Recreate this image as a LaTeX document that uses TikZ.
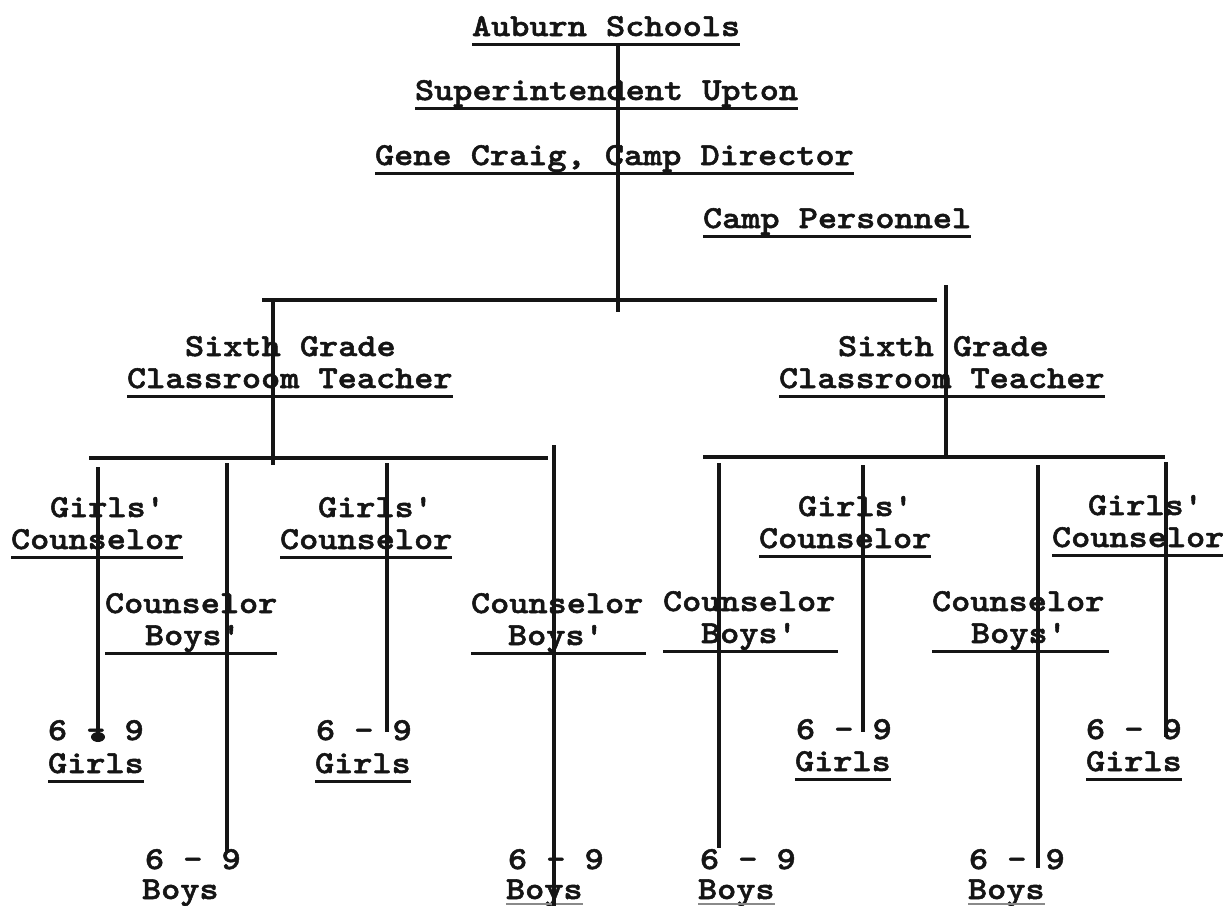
\documentclass[tikz,border=0pt]{standalone}
\usepackage{fontspec}
\newfontfamily\twfont{lmmonolt10-bold}[Extension=.otf, FakeStretch=1.14, FakeBold=1.6, Ligatures=TeXOff]
\definecolor{ink}{HTML}{151515}
\definecolor{faint}{HTML}{8A8A8A}
\newcommand\myul[2][0pt]{\draw[ul] ([yshift=-4pt,xshift=-#1]#2.base west) -- ([yshift=-4pt,xshift=#1]#2.base east);}
\begin{document}
\begin{tikzpicture}[x=0.5pt,y=-0.5pt,
  tw/.style={anchor=base west, inner sep=0pt, outer sep=0pt, font=\twfont\fontsize{16}{19}\selectfont, text=ink},
  link/.style={draw=ink, line width=2pt},
  hlink/.style={draw=ink, line width=1.8pt},
  ul/.style={draw=ink, line width=1.5pt},
  faintul/.style={draw=faint, line width=1.2pt}]
\useasboundingbox (0,0) rectangle (1223,906);
\fill[white] (0,0) rectangle (1223,906);

% ---------- top chain ----------
\node[tw] (auburn) at (472,36) {Auburn Schools};
\node[tw] (supt)   at (415,100) {Superintendent Upton};
\node[tw] (gene)   at (375,165) {Gene Craig, Camp Director};
\node[tw] (pers)   at (703,228) {Camp Personnel};
\myul{auburn}\myul{supt}\myul{gene}\myul{pers}

% ---------- teachers ----------
\node[tw] (sixL)  at (185,356) {Sixth Grade};
\node[tw] (clsL)  at (127,388) {Classroom Teacher};
\node[tw] (sixR)  at (838,356) {Sixth Grade};
\node[tw] (clsR)  at (779,388) {Classroom Teacher};
\myul{clsL}\myul{clsR}

% ---------- girls' counselors ----------
\node[tw] (gcL1a) at (50,517)  {Girls'};
\node[tw] (gcL1b) at (11,549)  {Counselor};
\node[tw] (gcL2a) at (318,517) {Girls'};
\node[tw] (gcL2b) at (280,549) {Counselor};
\node[tw] (gcR1a) at (798,516) {Girls'};
\node[tw] (gcR1b) at (759,548) {Counselor};
\node[tw] (gcR2a) at (1088,515) {Girls'};
\node[tw] (gcR2b) at (1052,547) {Counselor};
\myul{gcL1b}\myul{gcL2b}\myul{gcR1b}\myul{gcR2b}

% ---------- boys' counselors ----------
\node[tw] (bcL1a) at (105,613) {Counselor};
\node[tw] (bcL1b) at (145,645) {Boys'};
\node[tw] (bcL2a) at (471,613) {Counselor};
\node[tw] (bcL2b) at (508,645) {Boys'};
\node[tw] (bcR1a) at (663,611) {Counselor};
\node[tw] (bcR1b) at (701,643) {Boys'};
\node[tw] (bcR2a) at (932,611) {Counselor};
\node[tw] (bcR2b) at (971,643) {Boys'};
\draw[ul] (bcL1a.base west |- bcL1b.base) ++(0,8) -- ++(172,0);
\draw[ul] (bcL2a.base west |- bcL2b.base) ++(0,8) -- ++(175,0);
\draw[ul] (bcR1a.base west |- bcR1b.base) ++(0,8) -- ++(175,0);
\draw[ul] (bcR2a.base west |- bcR2b.base) ++(0,8) -- ++(177,0);

% ---------- girls' groups ----------
\node[tw] (gL1a) at (48,740)  {6 - 9};
\node[tw] (gL1b) at (48,773)  {Girls};
\node[tw] (gL2a) at (316,740) {6 - 9};
\node[tw] (gL2b) at (315,773) {Girls};
\node[tw] (gR1a) at (796,739) {6 - 9};
\node[tw] (gR1b) at (795,771) {Girls};
\node[tw] (gR2a) at (1086,739) {6 - 9};
\node[tw] (gR2b) at (1086,771) {Girls};
\myul{gL1b}\myul{gL2b}\myul{gR1b}\myul{gR2b}

% ---------- boys' groups ----------
\node[tw] (bL1a) at (145,869) {6 - 9};
\node[tw] (bL1b) at (142,899) {Boys};
\node[tw] (bL2a) at (508,869) {6 - 9};
\node[tw] (bL2b) at (506,899) {Boys};
\node[tw] (bR1a) at (700,869) {6 - 9};
\node[tw] (bR1b) at (698,899) {Boys};
\node[tw] (bR2a) at (969,869) {6 - 9};
\node[tw] (bR2b) at (968,899) {Boys};
\foreach \n in {bL2b,bR1b,bR2b}{\draw[faintul] ([yshift=-2.6pt]\n.base west) -- ([yshift=-2.6pt]\n.base east);}

% ---------- connector coordinates ----------
\coordinate (top)  at (618,45);
\coordinate (hub)  at (618,312);
\coordinate (h1l)  at (262,300);
\coordinate (h1r)  at (937,300);
\coordinate (tL0)  at (273,300);
\coordinate (tL1)  at (273,465);
\coordinate (tR0)  at (946,285);
\coordinate (tR1)  at (946,457);
\coordinate (h2la) at (89,458);
\coordinate (h2lb) at (548,458);
\coordinate (h2ra) at (703,457);
\coordinate (h2rb) at (1165,457);
\coordinate (v1a) at (98,467);   \coordinate (v1b) at (98,737);
\coordinate (v2a) at (227,463);  \coordinate (v2b) at (227,853);
\coordinate (v3a) at (387,463);  \coordinate (v3b) at (387,732);
\coordinate (v4a) at (554,445);  \coordinate (v4b) at (554,906);
\coordinate (v5a) at (719,463);  \coordinate (v5b) at (719,848);
\coordinate (v6a) at (863,465);  \coordinate (v6b) at (863,732);
\coordinate (v7a) at (1038,465); \coordinate (v7b) at (1038,868);
\coordinate (v8a) at (1166,462); \coordinate (v8b) at (1166,737);

% ---------- connectors ----------
\draw[link] (top) -- (hub);
\draw[hlink] (h1l) -- (h1r);
\draw[link] (tL0) -- (tL1);
\draw[link] (tR0) -- (tR1);
\draw[hlink] (h2la) -- (h2lb);
\draw[hlink] (h2ra) -- (h2rb);
\foreach \i in {1,...,8}{\draw[link] (v\i a) -- (v\i b);}
\fill[ink] (v1b) ellipse (7 and 5);
\end{tikzpicture}
\end{document}
